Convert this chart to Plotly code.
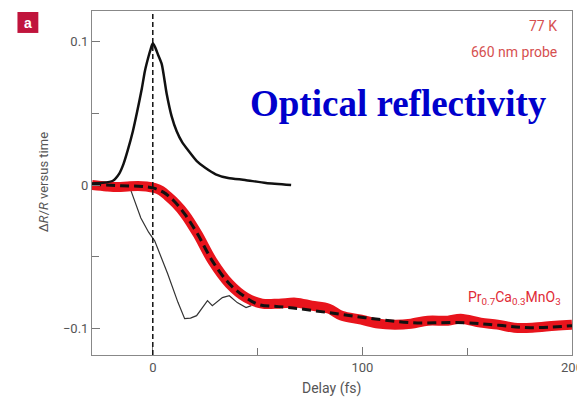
import plotly.graph_objects as go

# ---- data ----
peak_x = [-29, -24, -19, -16, -14, -12, -9.5, -7.5, -5.2, -3.8, -2, -1, 0, 1.2, 2.5, 4.3, 6.6,
          9, 11.4, 14, 17, 21, 25, 30, 36, 44, 54, 66]
peak_y = [0.001, 0.0015, 0.003, 0.008, 0.0146, 0.024, 0.0376, 0.051, 0.0676, 0.0794, 0.090,
          0.095, 0.099, 0.096, 0.091, 0.0843, 0.064, 0.048, 0.0376, 0.030, 0.024, 0.0167, 0.012,
          0.0075, 0.0049, 0.0035, 0.0014, 0.0]

thin_x = [-10.9, -5.7, -2, 0.9, 7.1, 12, 15.2, 18, 20.9, 26.1, 28.4, 33.2, 36.5, 40.3, 44.5, 47]
thin_y = [-0.002, -0.023, -0.033, -0.039, -0.062, -0.082, -0.0934, -0.093, -0.0913, -0.0808,
          -0.0843, -0.0787, -0.0774, -0.0822, -0.0857, -0.0843]

red_x = [-29, -22, -16.6, -12, -7.1, -3, 0.9, 4, 7.1, 11, 15.2, 21.3, 28.4, 36.5, 44.5, 52.1,
         60.2, 68.2, 75.8, 83.9, 90, 99.5, 107.6, 115.6, 123.2, 131.3, 140.8, 146.9, 156.4,
         164.5, 172.5, 181, 192, 200]
red_y = [0, -0.001, -0.0014, -0.001, -0.0007, -0.001, -0.0021, -0.004, -0.0077, -0.013, -0.0202,
         -0.0341, -0.053, -0.069, -0.0787, -0.0829, -0.0829, -0.0822, -0.0843, -0.0864, -0.0913,
         -0.0941, -0.0969, -0.0976, -0.0969, -0.0948, -0.0948, -0.0934, -0.0962, -0.0976,
         -0.0997, -0.0997, -0.0983, -0.0976]

fit_x = [-29, -15, -5, 0, 5, 10, 15.2, 21.3, 28.4, 36.5, 44.5, 50.7, 60, 69.7, 83.9, 101.4,
         123.2, 148.8, 165, 180, 200]
fit_y = [0.0005, -0.0005, -0.001, -0.002, -0.005, -0.011, -0.0202, -0.0341, -0.053, -0.069,
         -0.0787, -0.0836, -0.085, -0.0864, -0.0892, -0.0927, -0.0962, -0.0962, -0.098, -0.0997,
         -0.0983]

x_ticks = [0, 100, 200]
x_ticktext = ["0", "100", "200"]
y_ticks = [-0.1, 0, 0.1]
y_ticktext = ["\u22120.1", "0", "0.1"]

FONT = "Roboto, Liberation Sans, sans-serif"
GREY = "#555555"

fig = go.Figure()
fig.add_trace(go.Scatter(x=thin_x, y=thin_y, mode="lines",
                         line=dict(color="#333333", width=1.2)))
fig.add_trace(go.Scatter(x=red_x, y=red_y, mode="lines", line_shape="spline",
                         line=dict(color="#e8141c", width=10)))
fig.add_trace(go.Scatter(x=fit_x, y=fit_y, mode="lines", line_shape="spline",
                         line=dict(color="#111111", width=3, dash="9px,5px")))
fig.add_trace(go.Scatter(x=peak_x, y=peak_y, mode="lines", line_shape="spline",
                         line=dict(color="#111111", width=2.5, smoothing=0.6)))

axis_common = dict(showgrid=False, zeroline=False, showline=True, linecolor="#888888",
                   linewidth=1, mirror=True, ticks="inside", ticklen=8, tickcolor="#777777",
                   tickfont=dict(family=FONT, size=13, color=GREY))

fig.update_xaxes(range=[-29, 200], tickvals=x_ticks, ticktext=x_ticktext,
                 ticklabeloverflow="allow",
                 minor=dict(ticks="inside", ticklen=7, dtick=50, tick0=0, tickcolor="#777777"),
                 **axis_common)
fig.update_yaxes(range=[-0.1188, 0.1216], tickvals=y_ticks, ticktext=y_ticktext,
                 minor=dict(ticks="inside", ticklen=7, dtick=0.05, tick0=0, tickcolor="#777777"),
                 **axis_common)

fig.add_shape(type="line", xref="x", yref="paper", x0=0, x1=0, y0=0, y1=1,
              line=dict(color="#111111", width=1.5, dash="5px,3px"))

# panel label "a"
fig.add_shape(type="rect", xref="paper", yref="paper", x0=-0.1553, x1=-0.1118,
              y0=0.9362, y1=0.9971, fillcolor="#c0143c", line=dict(width=0))

annotations = [
    dict(text="<b>a</b>", x=-0.1335, y=0.966, xanchor="center", yanchor="middle",
         font=dict(family="Liberation Sans, Arial, sans-serif", size=14, color="white")),
    dict(text="\u0394<i>R</i>/<i>R</i> versus time", x=-0.1004, y=0.5014, textangle=-90,
         xanchor="center", yanchor="middle", font=dict(family=FONT, size=13, color=GREY)),
    dict(text="Delay (fs)", x=0.499, y=-0.0986, xanchor="center", yanchor="middle",
         font=dict(family=FONT, size=14, color=GREY)),
    dict(text="77 K", x=0.973, y=0.9565, xanchor="right", yanchor="middle",
         font=dict(family=FONT, size=14, color="#d65050")),
    dict(text="660 nm probe", x=0.973, y=0.881, xanchor="right", yanchor="middle",
         font=dict(family=FONT, size=14, color="#d65050")),
    dict(text="<b>Optical reflectivity</b>", x=0.6377, y=0.7304, xanchor="center",
         yanchor="middle",
         font=dict(family="Liberation Serif, Times New Roman, serif", size=37, color="#0000cc")),
    dict(text="Pr<sub>0.7</sub>Ca<sub>0.3</sub>MnO<sub>3</sub>", x=0.7785, y=0.165,
         xanchor="left", yanchor="middle", font=dict(family=FONT, size=14, color="#e02a36")),
]
for a in annotations:
    a.update(xref="paper", yref="paper", showarrow=False)
fig.update_layout(annotations=annotations)

# the page body adds an 8px margin, so the figure is 8px smaller on each axis
fig.update_layout(width=577, height=393, margin=dict(l=84, r=10, t=2, b=46),
                  paper_bgcolor="white", plot_bgcolor="white", showlegend=False)

fig.write_html("out.html")
